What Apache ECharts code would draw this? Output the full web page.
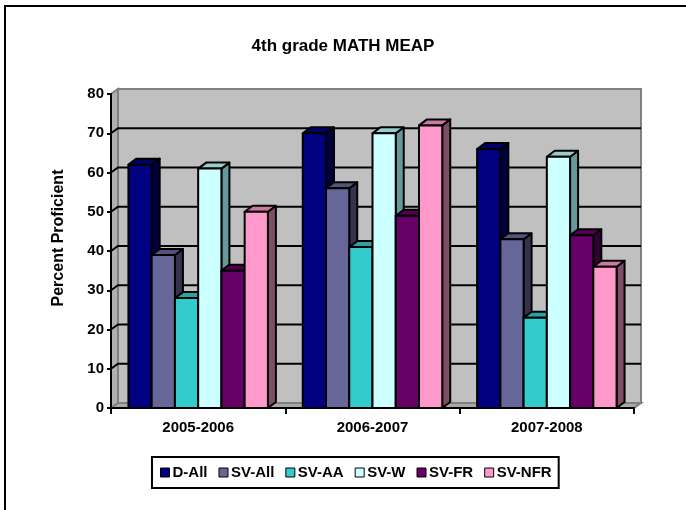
<!DOCTYPE html>
<html><head><meta charset="utf-8">
<script src="https://cdn.jsdelivr.net/npm/echarts@6/dist/echarts.min.js"></script>
<style>html,body{margin:0;padding:0;background:#fff}#c{width:686px;height:510px}</style>
</head><body><div id="c"></div>
<script>
// ---- data ----
const categories = ['2005-2006', '2006-2007', '2007-2008'];
const seriesNames = ['D-All', 'SV-All', 'SV-AA', 'SV-W', 'SV-FR', 'SV-NFR'];
const dAll  = [62, 70, 66];
const svAll = [39, 56, 43];
const svAA  = [28, 41, 23];
const svW   = [61, 70, 64];
const svFR  = [35, 49, 44];
const svNFR = [50, 72, 36];
const gridTicks = [10, 20, 30, 40, 50, 60, 70];
const seriesValues = [dAll, svAll, svAA, svW, svFR, svNFR];

// ---- styles ----
const frontColors = ['#000080', '#666699', '#33CCCC', '#CCFFFF', '#660066', '#FF99CC'];
const topColors   = ['#000066', '#52527a', '#29a3a3', '#99cccc', '#520052', '#cc7aa3'];
const sideColors  = ['#000040', '#33334d', '#1a6666', '#669999', '#330033', '#804d66'];
const BDX = 8, BDY = -6;   // bar depth offset
const WDX = 7, WDY = -5;   // wall depth offset
const FONT = 'Liberation Sans, Arial, sans-serif';

const chart = echarts.init(document.getElementById('c'), null, {renderer: 'canvas'});

function barRender(si) {
  return function (params, api) {
    const cat = api.value(0), v = api.value(1);
    const top = api.coord([cat, v]);
    const base = api.coord([cat, 0]);
    const band = api.size([1, 0])[0];
    const groupW = band * 0.8;
    const bw = groupW / 6;
    const x0 = top[0] - groupW / 2 + si * bw;
    const x1 = x0 + bw;
    const yt = top[1], yb = base[1];
    const st = {stroke: '#000', lineWidth: 2, lineJoin: 'round'};
    return {type: 'group', children: [
      {type: 'polygon', shape: {points: [[x1, yt], [x1 + BDX, yt + BDY], [x1 + BDX, yb + BDY], [x1, yb]]},
        style: Object.assign({fill: sideColors[si]}, st)},
      {type: 'polygon', shape: {points: [[x0, yt], [x1, yt], [x1 + BDX, yt + BDY], [x0 + BDX, yt + BDY]]},
        style: Object.assign({fill: topColors[si]}, st)},
      {type: 'rect', shape: {x: x0, y: yt, width: bw, height: yb - yt},
        style: Object.assign({fill: frontColors[si]}, st)}
    ]};
  };
}

function wallRender(params, api) {
  const cs = params.coordSys;
  const L = cs.x, R = cs.x + cs.width, T = cs.y, B = cs.y + cs.height;
  const wallSt = {stroke: '#808080', lineWidth: 2};
  return {type: 'group', children: [
    {type: 'rect', shape: {x: L + WDX, y: T + WDY, width: R - L, height: B - T},
      style: Object.assign({fill: '#C0C0C0'}, wallSt)},
    {type: 'polygon', shape: {points: [[L, T], [L + WDX, T + WDY], [L + WDX, B + WDY], [L, B]]},
      style: Object.assign({fill: '#B0B0B0'}, wallSt)},
    {type: 'polygon', shape: {points: [[L, B], [L + WDX, B + WDY], [R + WDX, B + WDY], [R, B]]},
      style: Object.assign({fill: '#A8A8A8'}, wallSt)}
  ]};
}

function gridRender(params, api) {
  const cs = params.coordSys;
  const L = cs.x, R = cs.x + cs.width;
  const p = api.coord([0, api.value(1)]);
  const y = p[1];
  return {type: 'polyline', shape: {points: [[L, y], [L + WDX, y + WDY], [R + WDX, y + WDY]]},
    style: {stroke: '#000', lineWidth: 2, fill: null}};
}

const series = [
  {type: 'custom', name: '_walls', renderItem: wallRender, data: [[0, 0]], silent: true, z: 1},
  {type: 'custom', name: '_grid', renderItem: gridRender, data: gridTicks.map(t => [0, t]), silent: true, z: 1}
];
seriesNames.forEach((n, si) => {
  series.push({
    type: 'custom', name: n, renderItem: barRender(si), z: 2,
    itemStyle: {color: frontColors[si], borderColor: '#000', borderWidth: 1},
    data: seriesValues[si].map((v, i) => [i, v])
  });
});

chart.setOption({
  animation: false,
  backgroundColor: '#fff',
  title: {text: '4th grade MATH MEAP', left: 'center', top: 33,
    textStyle: {fontFamily: FONT, fontSize: 17, fontWeight: 'bold', color: '#000'}},
  grid: {left: 111, right: 52, top: 94, bottom: 102, containLabel: false},
  xAxis: {
    type: 'category', data: categories, z: 10,
    axisLine: {lineStyle: {color: '#000', width: 2}},
    axisTick: {show: true, length: 6, lineStyle: {color: '#000', width: 2}},
    axisLabel: {fontFamily: FONT, fontSize: 15, fontWeight: 'bold', color: '#000', margin: 12},
    splitLine: {show: false}
  },
  yAxis: {
    type: 'value', min: 0, max: 80, interval: 10, z: 10,
    name: 'Percent Proficient', nameLocation: 'middle', nameGap: 44,
    nameTextStyle: {fontFamily: FONT, fontSize: 16, fontWeight: 'bold', color: '#000', padding: [0, 0, 0, 26]},
    axisLine: {show: true, lineStyle: {color: '#000', width: 2}},
    axisTick: {show: true, length: 4, lineStyle: {color: '#000', width: 2}},
    axisLabel: {fontFamily: FONT, fontSize: 15, fontWeight: 'bold', color: '#000', margin: 7},
    splitLine: {show: false}
  },
  legend: {
    data: seriesNames.map(n => ({name: n, icon: 'rect'})),
    left: 152, top: 457, orient: 'horizontal',
    padding: [8, 7, 8, 8], itemGap: 11, itemWidth: 9, itemHeight: 9,
    borderColor: '#000', borderWidth: 2,
    itemStyle: {borderColor: '#000', borderWidth: 1},
    textStyle: {fontFamily: FONT, fontSize: 15, fontWeight: 'bold', color: '#000', padding: [0, 0, 0, -2]}
  },
  graphic: [
    {type: 'rect', silent: true, z: -1, shape: {x: 5, y: 6, width: 720, height: 620},
      style: {fill: 'none', stroke: '#000', lineWidth: 2}}
  ],
  series: series
});
</script>
</body></html>
